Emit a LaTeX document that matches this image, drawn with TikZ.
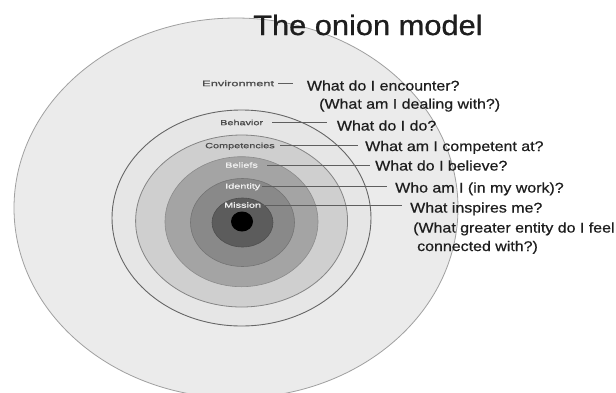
\documentclass[tikz,border=0pt]{standalone}
\usepackage{fontspec}
\setmainfont{Liberation Sans}
\newfontfamily\qfont[FakeStretch=1.14,FakeBold=0.6]{Liberation Sans}
\newfontfamily\tfont[FakeStretch=1.1,FakeBold=0.8]{Liberation Sans}
\newfontfamily\lfont[FakeStretch=1.45,FakeBold=0.8]{Liberation Sans}
\newfontfamily\efont[FakeStretch=1.6,FakeBold=0.8]{Liberation Sans}
\definecolor{outerfill}{HTML}{EBEBEB}
\definecolor{outerline}{HTML}{A0A0A0}
\definecolor{ringA}{HTML}{E6E6E6}
\definecolor{ringB}{HTML}{CFCFCF}
\definecolor{ringC}{HTML}{A4A4A4}
\definecolor{ringD}{HTML}{898989}
\definecolor{ringE}{HTML}{5C5C5C}
\definecolor{darkline}{HTML}{666666}
\definecolor{conncol}{HTML}{5E5E5E}
\definecolor{qcol}{HTML}{1E1E1E}
\definecolor{labdark}{HTML}{4A4A4A}
\definecolor{lablight}{HTML}{F0F0F0}
\begin{document}
\begin{tikzpicture}[x=1pt,y=-1pt,
  question/.style={anchor=base west, inner sep=0pt, text=qcol,
    font=\qfont\fontsize{14}{16}\selectfont},
  layer/.style={anchor=west, inner sep=0pt, text height=5.4pt, text depth=0pt,
    font=\lfont\fontsize{7.5}{9}\selectfont},
  conn/.style={draw=conncol, line width=0.7pt}]
\useasboundingbox (0,0) rectangle (616,392);
\fill[white] (0,0) rectangle (616,392);
\begin{scope}
  \clip (0,0) rectangle (616,392);
  \draw[fill=outerfill, draw=outerline, line width=0.8pt]
    (236,208) ellipse [x radius=222pt, y radius=190pt];
\end{scope}
% rings
\draw[fill=ringA, draw=darkline, line width=0.9pt] (241.5,218) ellipse [x radius=129.5pt, y radius=108pt];
\draw[fill=ringB, draw=darkline!80, line width=0.8pt] (241.6,221) ellipse [x radius=106pt, y radius=86pt];
\draw[fill=ringC, draw=ringC!85!black, line width=0.6pt] (241.5,221.7) ellipse [x radius=76.5pt, y radius=65pt];
\draw[fill=ringD, draw=ringD!85!black, line width=0.6pt] (242.5,222.5) ellipse [x radius=52pt, y radius=44pt];
\draw[fill=ringE, draw=ringE!85!black, line width=0.6pt] (242.5,222.5) ellipse [x radius=30.5pt, y radius=24.5pt];
\fill[black] (242,221.5) ellipse [x radius=11pt, y radius=10pt];
% title
\node[anchor=base west, inner sep=0pt, text=qcol, font=\tfont\fontsize{28}{32}\selectfont] (title) at (253,35) {The onion model};
% layer labels
\node[layer, text=labdark, font=\efont\fontsize{8}{9}\selectfont] (env) at (202,83.5) {Environment};
\node[layer, text=labdark] (beh) at (220,122.5) {Behavior};
\node[layer, text=labdark] (comp) at (205,145.5) {Competencies};
\node[layer, text=lablight] (bel) at (225,165) {Beliefs};
\node[layer, text=lablight] (idn) at (225,186) {Identity};
\node[layer, text=lablight] (mis) at (224,205) {Mission};
% questions
\node[question] (qenv) at (306.7,90.5) {What do I encounter?};
\node[question] (qenvb) at (319,108.7) {(What am I dealing with?)};
\node[question] (qbeh) at (336.7,130.5) {What do I do?};
\node[question] (qcomp) at (365,151) {What am I competent at?};
\node[question] (qbel) at (375,170.5) {What do I believe?};
\node[question] (qidn) at (395,192.5) {Who am I (in my work)?};
\node[question] (qmis) at (410,212.5) {What inspires me?};
\node[question] (qmisb) at (413,232.5) {(What greater entity do I feel};
\node[question] (qmisc) at (417,251) {connected with?)};
% connectors
\draw[conn] ([xshift=4pt]env.east) -- ([xshift=-13.7pt]env.east -| qenv.west);
\draw[conn] ([xshift=9pt]beh.east) -- ([xshift=-10pt]beh.east -| qbeh.west);
\draw[conn] ([xshift=5.5pt]comp.east) -- ([xshift=-7pt]comp.east -| qcomp.west);
\draw[conn] ([xshift=9pt]bel.east) -- ([xshift=-5pt]bel.east -| qbel.west);
\draw[conn] ([xshift=2pt]idn.east) -- ([xshift=-8pt]idn.east -| qidn.west);
\draw[conn] ([xshift=2pt]mis.east) -- ([xshift=-8pt]mis.east -| qmis.west);
\end{tikzpicture}
\end{document}
